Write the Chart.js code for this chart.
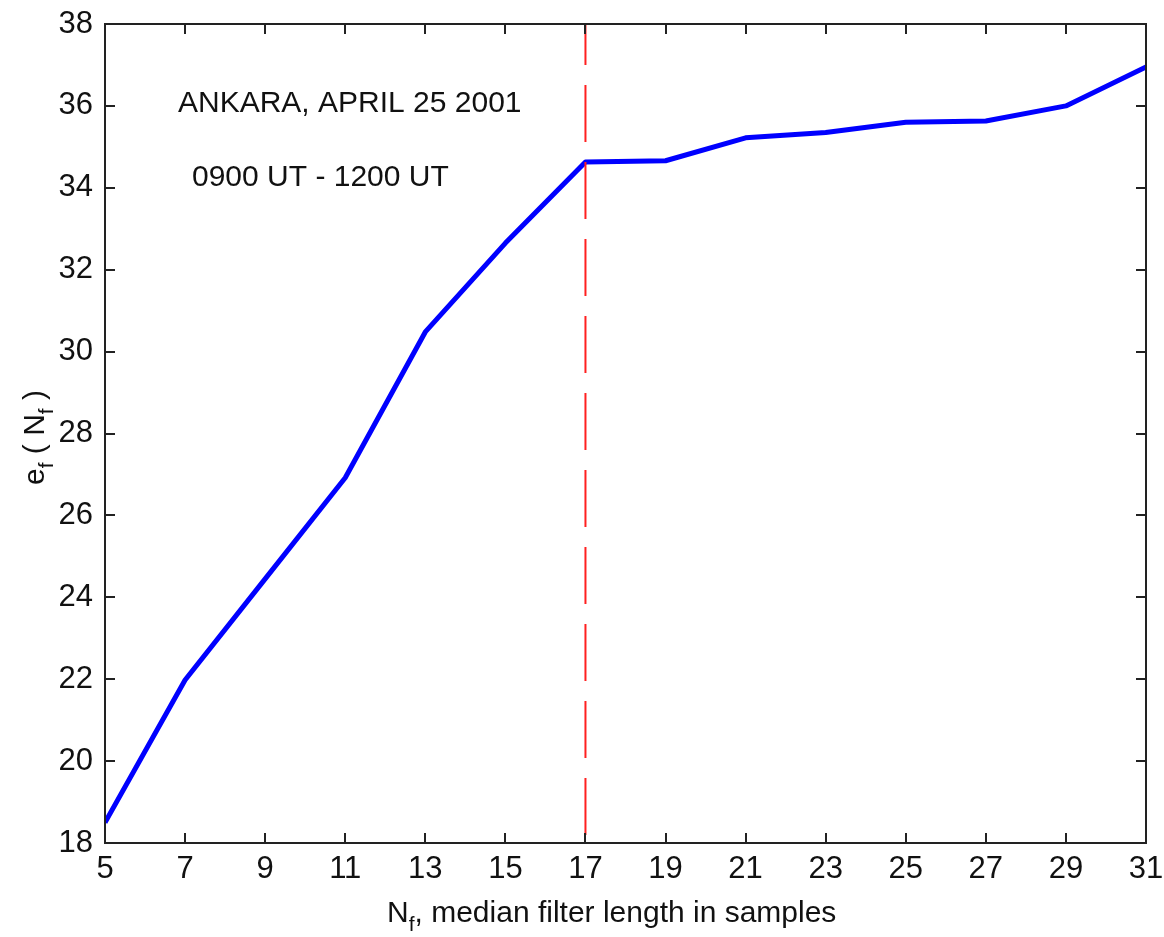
<!DOCTYPE html>
<html>
<head>
<meta charset="utf-8">
<script src="https://cdn.jsdelivr.net/npm/chart.js@4/dist/chart.umd.min.js"></script>
<style>
    body { margin: 0; background: #fff; }
    canvas { display: block; }
</style>
</head>
<body>
<canvas id="efChart" width="1164" height="937"></canvas>
<script>
// median filter length (odd samples) and error values
const filterLengths = [5, 7, 9, 11, 13, 15, 17, 19, 21, 23, 25, 27, 29, 31];
const errorValues = [18.5, 21.98, 24.45, 26.92, 30.48, 32.65, 34.63, 34.66, 35.22, 35.35, 35.6, 35.63, 36.0, 36.95];
const cutoffLength = [17, 17];
const cutoffRange = [38, 18];
const xTicks = [5, 7, 9, 11, 13, 15, 17, 19, 21, 23, 25, 27, 29, 31];
const yTicks = [18, 20, 22, 24, 26, 28, 30, 32, 34, 36, 38];
const noteLines = ["ANKARA, APRIL 25 2001", "0900 UT - 1200 UT"];

const FONT = "'Liberation Sans', Arial, sans-serif";
const INK = "#111";

// draws text with a small subscript part, e.g. ["N", "f"]
function drawParts(ctx, parts, x, y) {
    parts.forEach((p) => {
        ctx.font = p.sub ? "21px " + FONT : "30px " + FONT;
        ctx.fillText(p.t, x, y + (p.sub ? 9 : 0));
        x += ctx.measureText(p.t).width;
    });
}

const framePlugin = {
    id: "frame",
    afterDatasetsDraw(chart) {
        const ctx = chart.ctx;
        const a = chart.chartArea;
        const xs = chart.scales.x;
        const ys = chart.scales.y;
        ctx.save();
        ctx.strokeStyle = "#222";
        ctx.lineWidth = 2;
        ctx.strokeRect(a.left, a.top, a.right - a.left, a.bottom - a.top);
        ctx.beginPath();
        xTicks.forEach((v) => {
            const px = Math.round(xs.getPixelForValue(v));
            ctx.moveTo(px, a.bottom);
            ctx.lineTo(px, a.bottom - 10);
            ctx.moveTo(px, a.top);
            ctx.lineTo(px, a.top + 10);
        });
        yTicks.forEach((v) => {
            const py = Math.round(ys.getPixelForValue(v));
            ctx.moveTo(a.left, py);
            ctx.lineTo(a.left + 10, py);
            ctx.moveTo(a.right, py);
            ctx.lineTo(a.right - 10, py);
        });
        ctx.stroke();

        ctx.fillStyle = INK;
        ctx.textBaseline = "middle";
        ctx.textAlign = "left";
        ctx.font = "30px " + FONT;
        ctx.fillText(noteLines[0], 178, 104);
        ctx.fillText(noteLines[1], 192, 178);

        // axis titles
        ctx.textBaseline = "alphabetic";
        drawParts(ctx, [
            { t: "N" }, { t: "f", sub: true }, { t: ", median filter length in samples" }
        ], 387, 922);

        ctx.translate(44, 485);
        ctx.rotate(-Math.PI / 2);
        drawParts(ctx, [
            { t: "e" }, { t: "f", sub: true }, { t: " ( N" }, { t: "f", sub: true }, { t: " )" }
        ], 0, 0);
        ctx.restore();
    },
};

const ctx = document.getElementById("efChart");
new Chart(ctx, {
    type: "line",
    data: {
        datasets: [
            {
                label: "cutoff",
                data: cutoffLength.map((x, i) => ({ x: x, y: cutoffRange[i] })),
                borderColor: "#ff2020",
                borderWidth: 2,
                borderDash: [57, 20],
                borderDashOffset: 16,
                pointRadius: 0,
            },
            {
                label: "e_f",
                data: filterLengths.map((x, i) => ({ x: x, y: errorValues[i] })),
                borderColor: "#0000ff",
                borderWidth: 5,
                borderJoinStyle: "round",
                pointRadius: 0,
                tension: 0,
            },
        ],
    },
    options: {
        responsive: false,
        animation: false,
        layout: { padding: { top: 24, right: 18, left: 0, bottom: 0 } },
        plugins: {
            legend: { display: false },
            tooltip: { enabled: false },
        },
        scales: {
            x: {
                type: "linear",
                min: 5,
                max: 31,
                afterBuildTicks: (s) => { s.ticks = xTicks.map((v) => ({ value: v })); },
                ticks: { autoSkip: false, maxRotation: 0, color: INK, padding: 8, font: { family: FONT, size: 31 } },
                grid: { display: false, drawTicks: false },
                border: { display: false },
                afterFit: (s) => { s.height = 94; s.paddingLeft = 0; s.paddingRight = 0; },
            },
            y: {
                min: 18,
                max: 38,
                afterBuildTicks: (s) => { s.ticks = yTicks.map((v) => ({ value: v })); },
                ticks: { autoSkip: false, color: INK, padding: 12, font: { family: FONT, size: 31 } },
                grid: { display: false, drawTicks: false },
                border: { display: false },
                afterFit: (s) => { s.width = 105; s.paddingTop = 0; s.paddingBottom = 0; },
            },
        },
    },
    plugins: [framePlugin],
});
</script>
</body>
</html>
